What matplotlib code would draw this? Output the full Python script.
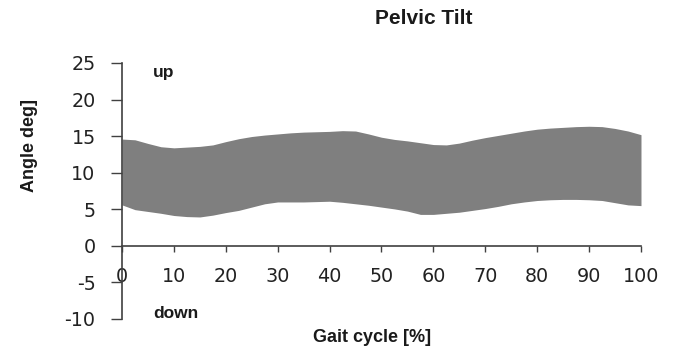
import matplotlib

matplotlib.use("Agg")
import matplotlib.pyplot as plt

plt.rcParams["axes.unicode_minus"] = False

# gait cycle sample points [%]
gait = [0, 2.5, 5, 7.5, 10, 12.5, 15, 17.5, 20, 22.5, 25, 27.5, 30, 32.5, 35,
        37.5, 40, 42.5, 45, 47.5, 50, 52.5, 55, 57.5, 60, 62.5, 65, 67.5, 70,
        72.5, 75, 77.5, 80, 82.5, 85, 87.5, 90, 92.5, 95, 97.5, 100]

# upper / lower edge of the pelvic tilt band [deg]
upper = [14.6, 14.5, 14.0, 13.55, 13.4, 13.5, 13.6, 13.8, 14.25, 14.65, 14.95,
         15.15, 15.3, 15.45, 15.55, 15.6, 15.65, 15.75, 15.7, 15.3, 14.85,
         14.55, 14.35, 14.1, 13.85, 13.8, 14.05, 14.45, 14.8, 15.1, 15.4,
         15.7, 15.95, 16.1, 16.2, 16.3, 16.35, 16.3, 16.05, 15.7, 15.2]
lower = [5.6, 4.95, 4.7, 4.45, 4.15, 4.0, 3.95, 4.2, 4.55, 4.85, 5.3, 5.75,
         6.0, 6.0, 6.0, 6.05, 6.1, 5.95, 5.75, 5.55, 5.3, 5.05, 4.75, 4.3,
         4.3, 4.45, 4.6, 4.85, 5.1, 5.4, 5.75, 6.0, 6.2, 6.3, 6.35, 6.35,
         6.3, 6.2, 5.9, 5.6, 5.5]

xticks = list(range(0, 101, 10))
yticks = list(range(-10, 26, 5))

axis_col = "#404040"
bold = dict(family="Liberation Sans", fontweight="bold", color="#1a1a1a")

fig = plt.figure(figsize=(6.77, 3.5), dpi=100)
ax = fig.add_axes([0.1802, 0.0886, 0.7666, 0.7314])

ax.fill_between(gait, lower, upper, color="#7f7f7f", linewidth=0)

ax.set_xlim(0, 100)
ax.set_ylim(-10, 25)
ax.set_xticks(xticks)
ax.set_yticks(yticks)

for side in ("top", "right"):
    ax.spines[side].set_visible(False)
ax.spines["bottom"].set_position(("data", 0))
for side in ("left", "bottom"):
    ax.spines[side].set_color(axis_col)
    ax.spines[side].set_linewidth(1.2)

ax.tick_params(axis="y", direction="out", length=8, width=1, color=axis_col,
               pad=11, labelsize=13.8, labelcolor="#222222")
ax.tick_params(axis="x", direction="out", length=4, width=1, color=axis_col,
               pad=11.5, labelsize=13.8, labelcolor="#222222")

ax.text(6, 23.7, "up", fontsize=12.5, va="center", ha="left", **bold)
ax.text(6, -9.2, "down", fontsize=12.5, va="center", ha="left", **bold)

fig.text(424 / 677, 1 - 18 / 350, "Pelvic Tilt", fontsize=15,
         ha="center", va="center", **bold)
fig.text(29 / 677, 1 - 145 / 350, "Angle deg]", fontsize=13, rotation=90,
         ha="center", va="center", **bold)
fig.text(372 / 677, 1 - 338 / 350, "Gait cycle [%]", fontsize=13,
         ha="center", va="center", **bold)

fig.savefig("out.png", dpi=100)
